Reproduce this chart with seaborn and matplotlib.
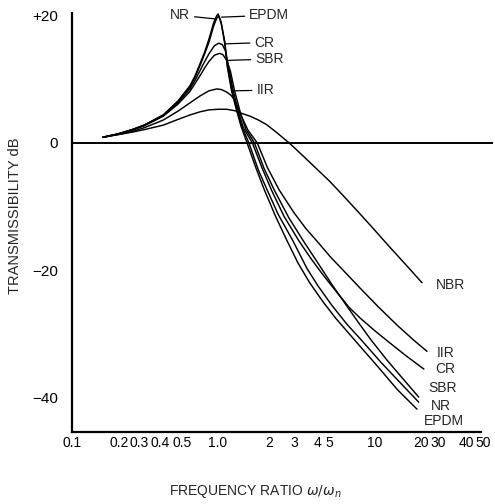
import matplotlib
matplotlib.use("Agg")
import matplotlib.pyplot as plt
import matplotlib.ticker as mticker
from matplotlib.transforms import ScaledTranslation
import pandas as pd
import seaborn as sns

# ---- data (frequency ratio, transmissibility dB) ----
nr_x = [0.16, 0.2, 0.25, 0.3, 0.4, 0.5, 0.6, 0.65, 0.7, 0.75, 0.8, 0.86, 0.9, 0.92, 0.96, 1.02,
        1.06, 1.13, 1.22, 1.31, 1.47, 1.7, 1.94, 2.3, 2.84, 3.56, 4.2, 5.2, 6.5, 8.1, 11.0,
        15.0, 19.4]
nr_db = [0.9, 1.4, 2.1, 2.8, 4.4, 6.6, 9.0, 10.6, 12.5, 14.3, 16.3, 18.9, 20.0, 20.3, 19.2, 15.9,
         12.3, 8.5, 5.4, 2.8, 0.0, -4.3, -7.4, -11.3, -15.2, -19.8, -22.5, -25.6, -28.5, -31.0,
         -34.6, -38.0, -40.8]

epdm_x = [0.16, 0.2, 0.25, 0.3, 0.4, 0.5, 0.6, 0.65, 0.7, 0.75, 0.8, 0.86, 0.9, 0.93, 0.97,
          1.02, 1.06, 1.13, 1.22, 1.31, 1.43, 1.64, 1.86, 2.2, 2.6, 3.1, 3.7, 4.5, 5.5, 7.5,
          10.5, 14.0, 18.9]
epdm_db = [0.9, 1.4, 2.1, 2.8, 4.4, 6.5, 8.8, 10.4, 12.2, 14.0, 15.8, 18.4, 19.6, 20.0, 18.6,
           15.5, 11.9, 8.2, 5.1, 2.5, 0.0, -4.0, -7.4, -11.5, -15.2, -18.9, -22.0, -24.9, -27.6,
           -31.3, -35.3, -38.8, -41.9]

cr_x = [0.16, 0.2, 0.25, 0.3, 0.4, 0.5, 0.6, 0.65, 0.7, 0.75, 0.8, 0.87, 0.93, 0.98, 1.03,
        1.08, 1.15, 1.25, 1.35, 1.55, 1.8, 2.07, 2.5, 3.14, 3.8, 4.48, 5.5, 6.75, 8.0, 10.0,
        12.4, 16.0, 21.0]
cr_db = [0.9, 1.4, 2.1, 2.8, 4.3, 6.3, 8.5, 9.9, 11.4, 12.8, 14.0, 15.3, 15.7, 15.5, 14.5,
         12.0, 8.5, 5.0, 2.4, 0.0, -4.0, -7.4, -11.5, -15.4, -18.3, -20.6, -23.3, -25.9, -27.6,
         -29.6, -31.4, -33.5, -35.6]

sbr_x = [0.16, 0.2, 0.25, 0.3, 0.4, 0.5, 0.6, 0.65, 0.7, 0.75, 0.8, 0.87, 0.94, 0.99, 1.05,
         1.11, 1.18, 1.29, 1.4, 1.6, 1.85, 2.16, 2.7, 3.4, 4.3, 5.3, 6.75, 8.0, 9.4, 12.0,
         15.5, 19.4]
sbr_db = [0.9, 1.4, 2.0, 2.7, 4.2, 6.1, 8.1, 9.4, 10.6, 11.8, 12.8, 13.8, 14.1, 13.9, 13.0,
          11.3, 8.3, 4.8, 2.2, 0.0, -4.0, -7.4, -11.8, -15.6, -19.3, -22.6, -26.2, -28.7,
          -31.0, -34.2, -37.3, -40.0]

iir_x = [0.16, 0.2, 0.25, 0.3, 0.4, 0.5, 0.6, 0.7, 0.8, 0.9, 0.97, 1.05, 1.12, 1.18, 1.24,
         1.3, 1.45, 1.67, 1.95, 2.33, 2.9, 3.5, 4.15, 5.1, 6.25, 8.0, 10.5, 14.0, 18.1, 22.0]
iir_db = [0.9, 1.3, 1.8, 2.4, 3.6, 5.0, 6.3, 7.4, 8.2, 8.5, 8.4, 8.0, 7.5, 6.8, 5.6,
          4.4, 2.0, 0.0, -3.9, -7.4, -10.9, -13.5, -15.5, -18.0, -20.2, -22.9, -25.8, -28.7,
          -31.1, -32.8]

nbr_x = [0.16, 0.2, 0.25, 0.3, 0.4, 0.5, 0.6, 0.7, 0.8, 0.92, 1.05, 1.2, 1.3, 1.5, 1.7,
         1.92, 2.2, 2.5, 2.8, 3.3, 4.0, 5.0, 6.0, 7.5, 9.5, 12.4, 16.0, 20.4]
nbr_db = [0.9, 1.3, 1.7, 2.1, 2.8, 3.7, 4.4, 4.9, 5.2, 5.3, 5.3, 5.05, 4.7, 4.2, 3.6,
          2.9, 1.8, 0.7, -0.3, -1.9, -3.8, -6.0, -8.0, -10.5, -13.2, -16.3, -19.2, -22.0]

materials = ["NR", "EPDM", "CR", "SBR", "IIR", "NBR"]

x_ticks = [0.1, 0.2, 0.3, 0.4, 0.5, 1.0, 2, 3, 4, 5, 10, 20, 30, 40, 50]
x_tick_labels = ["0.1", "0.2", "0.3", "0.4", "0.5", "1.0", "2", "3", "4", "5",
                 "10", "20", "30", "40", "50"]
y_ticks = [20, 0, -20, -40]
y_tick_labels = ["+20", "0", "\u221220", "\u221240"]

# ---- build long-form table ----
series = {"NR": (nr_x, nr_db), "EPDM": (epdm_x, epdm_db), "CR": (cr_x, cr_db),
          "SBR": (sbr_x, sbr_db), "IIR": (iir_x, iir_db), "NBR": (nbr_x, nbr_db)}
df = pd.concat([pd.DataFrame({"ratio": xs, "db": ys, "material": m})
                for m, (xs, ys) in series.items()], ignore_index=True)

sns.set_style("white")
plt.rcParams["font.family"] = ["Liberation Sans", "DejaVu Sans"]

fig = plt.figure(figsize=(4.95, 5.04), dpi=100)
ax = fig.add_axes([72 / 495, 72 / 504, 421 / 495, 432 / 504])

sns.lineplot(data=df, x="ratio", y="db", units="material", estimator=None,
             color="black", linewidth=1.05, sort=False, ax=ax)
for ln in ax.get_lines():
    ln.set_solid_joinstyle("round")

ax.set_xscale("log")
ax.set_xlim(0.1, 60)
ax.set_ylim(-45.5, 22.5)
ax.axhline(0, color="black", linewidth=1.4, zorder=1)

for side in ["top", "right"]:
    ax.spines[side].set_visible(False)
for side in ["left", "bottom"]:
    ax.spines[side].set_color("black")
    ax.spines[side].set_linewidth(1.6)
ax.spines["left"].set_bounds(-45.5, 20.5)
ax.spines["bottom"].set_bounds(0.1, 50)

ax.xaxis.set_major_locator(mticker.FixedLocator(x_ticks))
ax.xaxis.set_major_formatter(mticker.FixedFormatter(x_tick_labels))
ax.xaxis.set_minor_locator(mticker.NullLocator())
ax.set_yticks(y_ticks)
ax.set_yticklabels(y_tick_labels)
ax.tick_params(axis="x", direction="in", length=4, width=1, pad=3, labelsize=10,
               colors="black")
ax.tick_params(axis="y", direction="out", length=3, width=1, pad=7, labelsize=11,
               colors="black")
ax.set_xlabel("")
ax.set_ylabel("")
ax.grid(False)

# small horizontal nudges of crowded x tick labels, as in the reference
label_shift_px = {"0.2": 2, "0.3": -5, "0.4": -3, "0.5": 4, "1.0": -6, "3": -2, "4": 3,
                  "30": -9, "50": 2}
for lab in ax.get_xticklabels():
    dx = label_shift_px.get(lab.get_text(), 0)
    if dx:
        lab.set_transform(lab.get_transform() + ScaledTranslation(dx / 100, 0, fig.dpi_scale_trans))

fig.text(15 / 495, 1 - 216 / 504, "TRANSMISSIBILITY dB", rotation=90,
         ha="center", va="center", fontsize=10.5)
fig.text(255 / 495, 13 / 504, "FREQUENCY RATIO $\\omega/\\omega_n$",
         ha="center", va="center", fontsize=10)

# ---- labels near the peaks with leader lines ----
lead = dict(arrowstyle="-", color="black", lw=0.9, shrinkA=1, shrinkB=0)
ax.annotate("NR", xy=(0.90, 19.5), xytext=(0.60, 20.1), ha="right", va="center",
            fontsize=10, arrowprops=lead)
ax.annotate("EPDM", xy=(0.97, 19.8), xytext=(1.48, 20.1), ha="left", va="center",
            fontsize=10, arrowprops=lead)
ax.annotate("CR", xy=(1.03, 15.6), xytext=(1.60, 15.8), ha="left", va="center",
            fontsize=10, arrowprops=lead)
ax.annotate("SBR", xy=(1.08, 13.0), xytext=(1.62, 13.2), ha="left", va="center",
            fontsize=10, arrowprops=lead)
ax.annotate("IIR", xy=(1.13, 8.2), xytext=(1.65, 8.3), ha="left", va="center",
            fontsize=10, arrowprops=lead)

# ---- labels at the right ends ----
right_labels = [("NBR", 25.2, -22.3), ("IIR", 25.6, -33.0), ("CR", 24.8, -35.6),
                ("SBR", 22.3, -38.5), ("NR", 23.3, -41.4), ("EPDM", 21.0, -43.8)]
for txt, lx, ly in right_labels:
    ax.text(lx, ly, txt, ha="left", va="center", fontsize=10)

fig.savefig("out.png", dpi=100)
